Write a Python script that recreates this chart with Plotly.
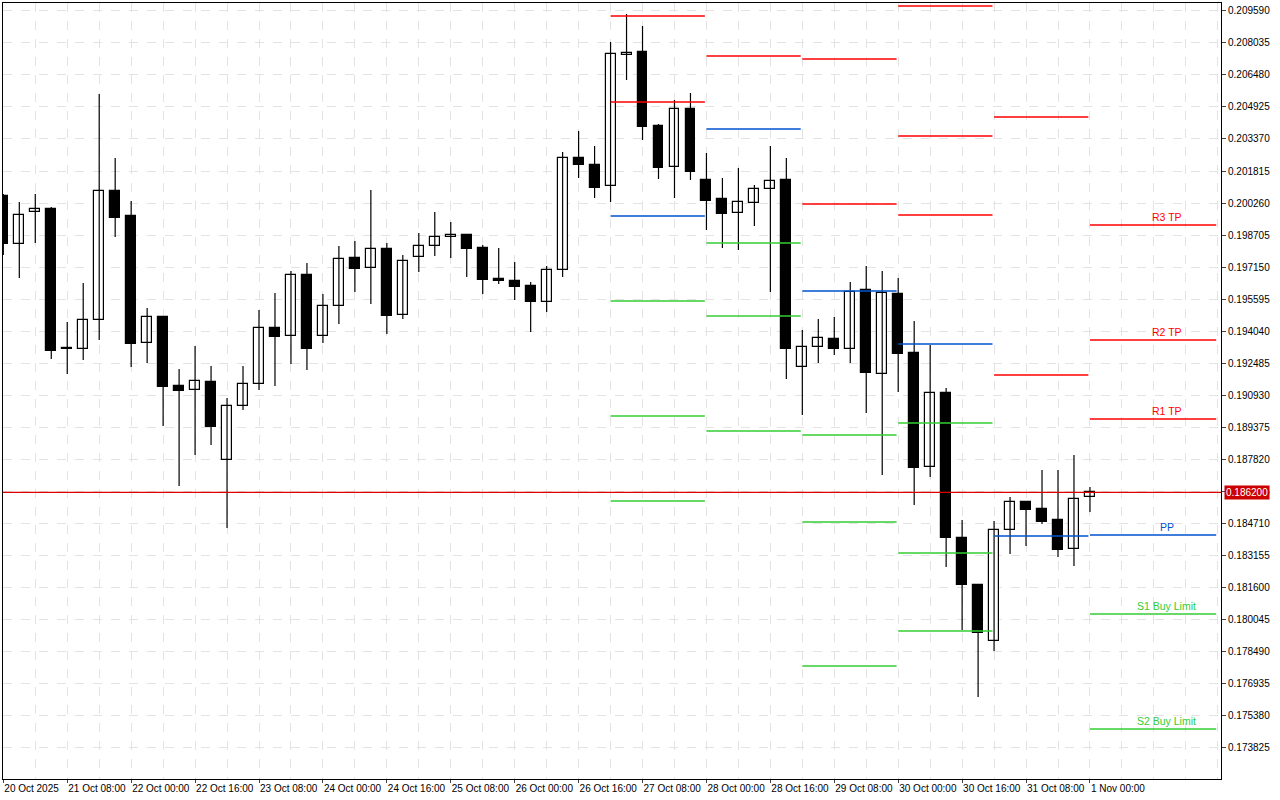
import plotly.graph_objects as go

# 4h candles, index 0 = 20 Oct 16:00 ... 68 = 1 Nov 00:00
opens = [0.200600, 0.198268, 0.199823, 0.199969, 0.193166, 0.193166, 0.194575, 0.200843, 0.199629, 0.193458,
         0.194721, 0.191368, 0.191174, 0.191563, 0.187773, 0.190396, 0.191465, 0.194186, 0.193798, 0.196762,
         0.193798, 0.195255, 0.197588, 0.197102, 0.198025, 0.194818, 0.197636, 0.198171, 0.198608, 0.198705,
         0.198074, 0.196567, 0.196470, 0.196227, 0.195450, 0.197005, 0.202447, 0.202107, 0.201086, 0.207452,
         0.207597, 0.204002, 0.202009, 0.204828, 0.201378, 0.200455, 0.199774, 0.200260, 0.200940, 0.201378,
         0.192291, 0.193263, 0.193652, 0.193166, 0.196033, 0.191951, 0.195839, 0.192972, 0.187432, 0.191028,
         0.183983, 0.181699, 0.178978, 0.184371, 0.185732, 0.185392, 0.184857, 0.183448, 0.185975]
highs = [0.200698, 0.200309, 0.200698, 0.200066, 0.194478, 0.196373, 0.205557, 0.202447, 0.200357, 0.195158,
         0.194770, 0.192194, 0.193312, 0.192340, 0.190785, 0.192340, 0.195061, 0.195887, 0.196956, 0.197345,
         0.195839, 0.198171, 0.198414, 0.200892, 0.198317, 0.197734, 0.198803, 0.199823, 0.199337, 0.198754,
         0.198219, 0.198074, 0.197393, 0.196422, 0.197199, 0.202738, 0.203759, 0.203030, 0.208083, 0.209444,
         0.208861, 0.204099, 0.205265, 0.205605, 0.202690, 0.201475, 0.201961, 0.201135, 0.203030, 0.202447,
         0.194089, 0.194624, 0.194721, 0.196422, 0.197199, 0.196956, 0.196616, 0.194527, 0.193360, 0.191271,
         0.184857, 0.181747, 0.184809, 0.185975, 0.185780, 0.187287, 0.187287, 0.188016, 0.186461]
lows = [0.197734, 0.196616, 0.198317, 0.192680, 0.191951, 0.192632, 0.193603, 0.198608, 0.192291, 0.192486,
        0.189425, 0.186509, 0.188016, 0.188501, 0.184468, 0.190202, 0.191174, 0.191368, 0.192437, 0.192146,
        0.193458, 0.194381, 0.195936, 0.195353, 0.193895, 0.194624, 0.196908, 0.197685, 0.197588, 0.196665,
        0.195839, 0.196324, 0.195547, 0.193992, 0.194964, 0.196665, 0.201475, 0.200503, 0.200309, 0.206237,
        0.203321, 0.201426, 0.200503, 0.201378, 0.198948, 0.198074, 0.197976, 0.199143, 0.195936, 0.191708,
        0.189959, 0.192486, 0.192875, 0.192486, 0.190057, 0.187044, 0.191077, 0.185586, 0.186947, 0.182573,
        0.179512, 0.176257, 0.178492, 0.183205, 0.183594, 0.184663, 0.183059, 0.182622, 0.185246]
closes = [0.198268, 0.199677, 0.199969, 0.193069, 0.193190, 0.194575, 0.200843, 0.199531, 0.193409, 0.194721,
          0.191320, 0.191125, 0.191611, 0.189376, 0.190396, 0.191465, 0.194186, 0.193749, 0.196762, 0.193166,
          0.195255, 0.197539, 0.197053, 0.198025, 0.194770, 0.197442, 0.198171, 0.198608, 0.198705, 0.198025,
          0.196519, 0.196470, 0.196179, 0.195450, 0.197005, 0.202447, 0.202107, 0.200989, 0.207500, 0.207549,
          0.203953, 0.201961, 0.204828, 0.201767, 0.200357, 0.199726, 0.200309, 0.200940, 0.201329, 0.193166,
          0.193263, 0.193701, 0.193166, 0.195936, 0.192000, 0.195887, 0.192923, 0.187384, 0.191028, 0.183983,
          0.181699, 0.179367, 0.184371, 0.185732, 0.185343, 0.184760, 0.183399, 0.185877, 0.186200]

tick_labels = ["20 Oct 2025", "21 Oct 08:00", "22 Oct 00:00", "22 Oct 16:00", "23 Oct 08:00", "24 Oct 00:00",
               "24 Oct 16:00", "25 Oct 08:00", "26 Oct 00:00", "26 Oct 16:00", "27 Oct 08:00", "28 Oct 00:00",
               "28 Oct 16:00", "29 Oct 08:00", "30 Oct 00:00", "30 Oct 16:00", "31 Oct 08:00", "1 Nov 00:00"]

price_ticks = [0.209590, 0.208035, 0.206480, 0.204925, 0.203370, 0.201815, 0.200260, 0.198705, 0.197150,
               0.195595, 0.194040, 0.192485, 0.190930, 0.189375, 0.187820, 0.186265, 0.184710, 0.183155,
               0.181600, 0.180045, 0.178490, 0.176935, 0.175380, 0.173825]

current_price = 0.186200

# daily pivot levels: start bar of each day, resistance, pivot, support
day_start = [38, 44, 50, 56, 62, 68]
res_levels = [[0.209347, 0.205168],
              [0.207403],
              [0.207257, 0.200212],
              [0.209832, 0.203516, 0.199677],
              [0.204439, 0.191903],
              [0.199191, 0.193603, 0.189765]]
pp_levels = [0.199629, 0.203856, 0.195984, 0.193409, 0.184080, 0.184128]
sup_levels = [[0.195498, 0.189911, 0.185780],
              [0.198317, 0.194770, 0.189182],
              [0.188987, 0.184760, 0.177763],
              [0.189571, 0.183254, 0.179464],
              [],
              [0.180290, 0.174702]]
last_labels = {"R3 TP": 0.199191, "R2 TP": 0.193603, "R1 TP": 0.189765,
               "PP": 0.184128, "S1 Buy Limit": 0.180290, "S2 Buy Limit": 0.174702}
label_colors = ["#ff0000", "#ff0000", "#ff0000", "#0050d0", "#33cc33", "#33cc33"]

idx = list(range(len(opens)))
FONT = "Liberation Sans"

fig = go.Figure()

# wicks
wx, wy = [], []
for i in idx:
    wx += [i, i, None]
    wy += [lows[i], highs[i], None]
fig.add_trace(go.Scatter(x=wx, y=wy, mode="lines", line=dict(color="black", width=1.2),
                         showlegend=False, hoverinfo="skip"))

# bodies
for up in (True, False):
    sel = [i for i in idx if (closes[i] >= opens[i]) == up]
    fig.add_trace(go.Bar(
        x=sel,
        base=[min(opens[i], closes[i]) for i in sel],
        y=[max(abs(closes[i] - opens[i]), 0.00003) for i in sel],
        width=0.62,
        marker=dict(color="white" if up else "black", line=dict(color="black", width=1.2)),
        showlegend=False, hoverinfo="skip"))


def seg_trace(levels_per_day, color):
    xs, ys = [], []
    for k, start in enumerate(day_start):
        end = start + (7.9 if k == len(day_start) - 1 else 5.9)
        for lv in levels_per_day[k]:
            xs += [start, end, None]
            ys += [lv, lv, None]
    return go.Scatter(x=xs, y=ys, mode="lines", line=dict(color=color, width=1.5),
                      showlegend=False, hoverinfo="skip")


fig.add_trace(seg_trace(res_levels, "#ff0000"))
fig.add_trace(seg_trace([[p] for p in pp_levels], "#0050d0"))
fig.add_trace(seg_trace(sup_levels, "#33cc33"))

fig.add_hline(y=current_price, line=dict(color="#dd0000", width=1.2))
fig.add_annotation(x=1, xref="paper", y=current_price, text="0.186200", showarrow=False,
                   xanchor="left", xshift=3, bgcolor="#cc0000",
                   font=dict(color="white", size=10, family=FONT), borderpad=1)

label_x = day_start[-1] + 4.8
for (txt, lv), col in zip(last_labels.items(), label_colors):
    fig.add_annotation(x=label_x, y=lv, text=txt, showarrow=False, yanchor="bottom", yshift=0,
                       font=dict(color=col, size=10.5, family=FONT))

fig.update_layout(
    width=1280, height=800,
    margin=dict(l=3, r=59, t=3, b=21),
    paper_bgcolor="white", plot_bgcolor="white",
    barmode="overlay", bargap=0,
    font=dict(family=FONT, size=10, color="black"),
    xaxis=dict(range=[-0.02, 76.2], automargin=False,
               tickmode="array", tickvals=list(range(0, 69, 4)), ticktext=tick_labels,
               tickangle=0, ticklabelposition="outside right", ticks="outside", ticklen=3,
               showline=True, linecolor="black", mirror=True,
               showgrid=False, zeroline=False),
    xaxis2=dict(overlaying="x", range=[-0.02, 76.2], tickmode="array", automargin=False,
                tickvals=list(range(0, 77, 2)), showticklabels=False,
                showgrid=True, gridcolor="#e3e3e3", griddash="dash", matches="x"),
    yaxis=dict(range=[0.172272, 0.209978], side="right", tickmode="array", automargin=False,
               tickvals=price_ticks, ticktext=[f"{p:.6f}" for p in price_ticks],
               ticks="outside", ticklen=4, showline=True, linecolor="black", mirror=True,
               showgrid=True, gridcolor="#e3e3e3", griddash="dash", zeroline=False),
)
# empty trace so the vertical grid of xaxis2 is drawn
fig.add_trace(go.Scatter(x=[None], y=[None], xaxis="x2", showlegend=False))

fig.write_html("out.html", config={"displayModeBar": False},
               post_script="document.body.style.margin='0';")
